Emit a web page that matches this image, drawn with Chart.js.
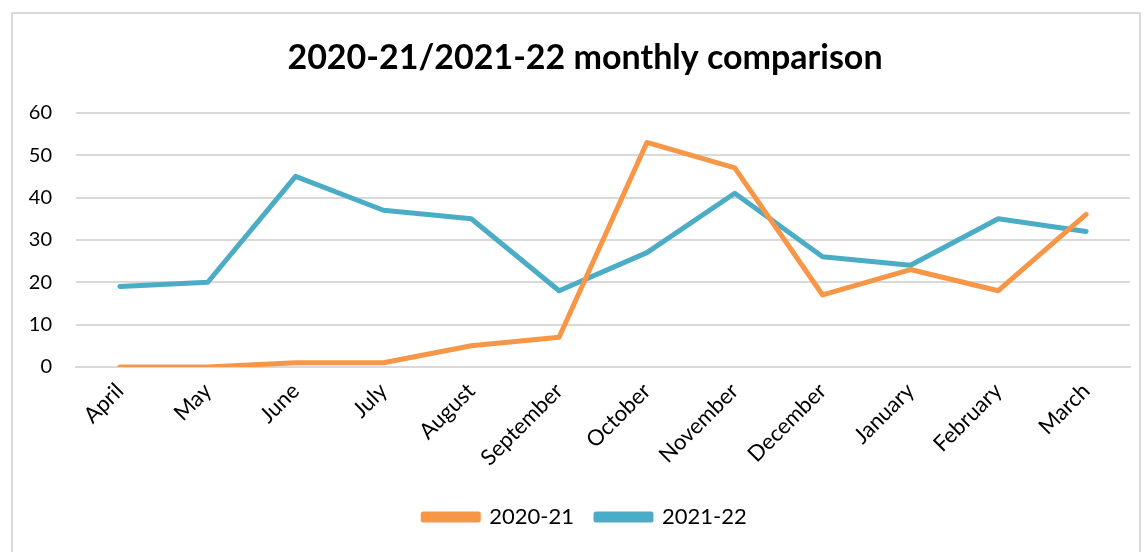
<!DOCTYPE html>
<html>
<head>
<meta charset="utf-8">
<script src="https://cdn.jsdelivr.net/npm/chart.js@4.4.1/dist/chart.umd.min.js"></script>
<style>
  html, body { margin: 0; padding: 0; background: #fff; }
  #wrap { position: relative; width: 1144px; height: 552px; overflow: hidden; }
  #frame { position: absolute; left: 11px; top: 12px; width: 1130px; height: 560px; border: 2px solid #d9d9d9; box-sizing: border-box; }
  canvas { position: absolute; left: 0; top: 0; }
</style>
</head>
<body>
<div id="wrap">
  <div id="frame"></div>
  <canvas id="c" width="1144" height="552"></canvas>
</div>
<script>
const categories = ["April","May","June","July","August","September","October","November","December","January","February","March"];
const series2021 = [0, 0, 1, 1, 5, 7, 53, 47, 17, 23, 18, 36];
const series2122 = [19, 20, 45, 37, 35, 18, 27, 41, 26, 24, 35, 32];
const seriesNames = ["2020-21", "2021-22"];
const yTicks = { min: 0, max: 60, step: 10 };

const FONT = "Lato, 'Open Sans', 'Liberation Sans', sans-serif";
const orange = "#F79646";
const blue = "#4BACC6";

new Chart(document.getElementById("c"), {
  type: "line",
  data: {
    labels: categories,
    datasets: [
      { label: seriesNames[0], data: series2021, borderColor: orange, backgroundColor: orange, borderWidth: 5, pointRadius: 0, tension: 0, borderCapStyle: "round", borderJoinStyle: "round" },
      { label: seriesNames[1], data: series2122, borderColor: blue, backgroundColor: blue, borderWidth: 5, pointRadius: 0, tension: 0, borderCapStyle: "round", borderJoinStyle: "round" }
    ]
  },
  options: {
    responsive: false,
    animation: false,
    layout: { padding: { left: 26, right: 0, top: 30, bottom: 14 } },
    plugins: {
      title: {
        display: true,
        text: "2020-21/2021-22 monthly comparison",
        color: "#000",
        font: { family: FONT, size: 34, weight: "bold" },
        padding: { top: 8, bottom: 34 }
      },
      legend: {
        position: "bottom",
        labels: {
          color: "#000",
          font: { family: FONT, size: 22 },
          boxWidth: 55,
          boxHeight: 6,
          padding: 22
        }
      },
      tooltip: { enabled: false }
    },
    scales: {
      x: {
        offset: true,
        afterFit: (s) => { s.height = s.height + 2; },
        grid: { display: false, drawTicks: false },
        border: { display: true, color: "#d9d9d9", width: 2 },
        ticks: {
          color: "#000",
          font: { family: FONT, size: 22 },
          maxRotation: 45,
          minRotation: 45,
          padding: 11
        }
      },
      y: {
        min: yTicks.min,
        max: yTicks.max,
        afterFit: (s) => { s.width = 50; },
        grid: { color: "#d9d9d9", lineWidth: 2, drawTicks: false },
        border: { display: false },
        ticks: {
          stepSize: yTicks.step,
          color: "#000",
          font: { family: FONT, size: 20 },
          padding: 24
        }
      },
      yRight: {
        position: "right",
        display: true,
        afterFit: (s) => { s.width = 14; },
        grid: { display: false, drawTicks: false },
        border: { display: false },
        ticks: { display: false }
      }
    }
  }
});
</script>
</body>
</html>
